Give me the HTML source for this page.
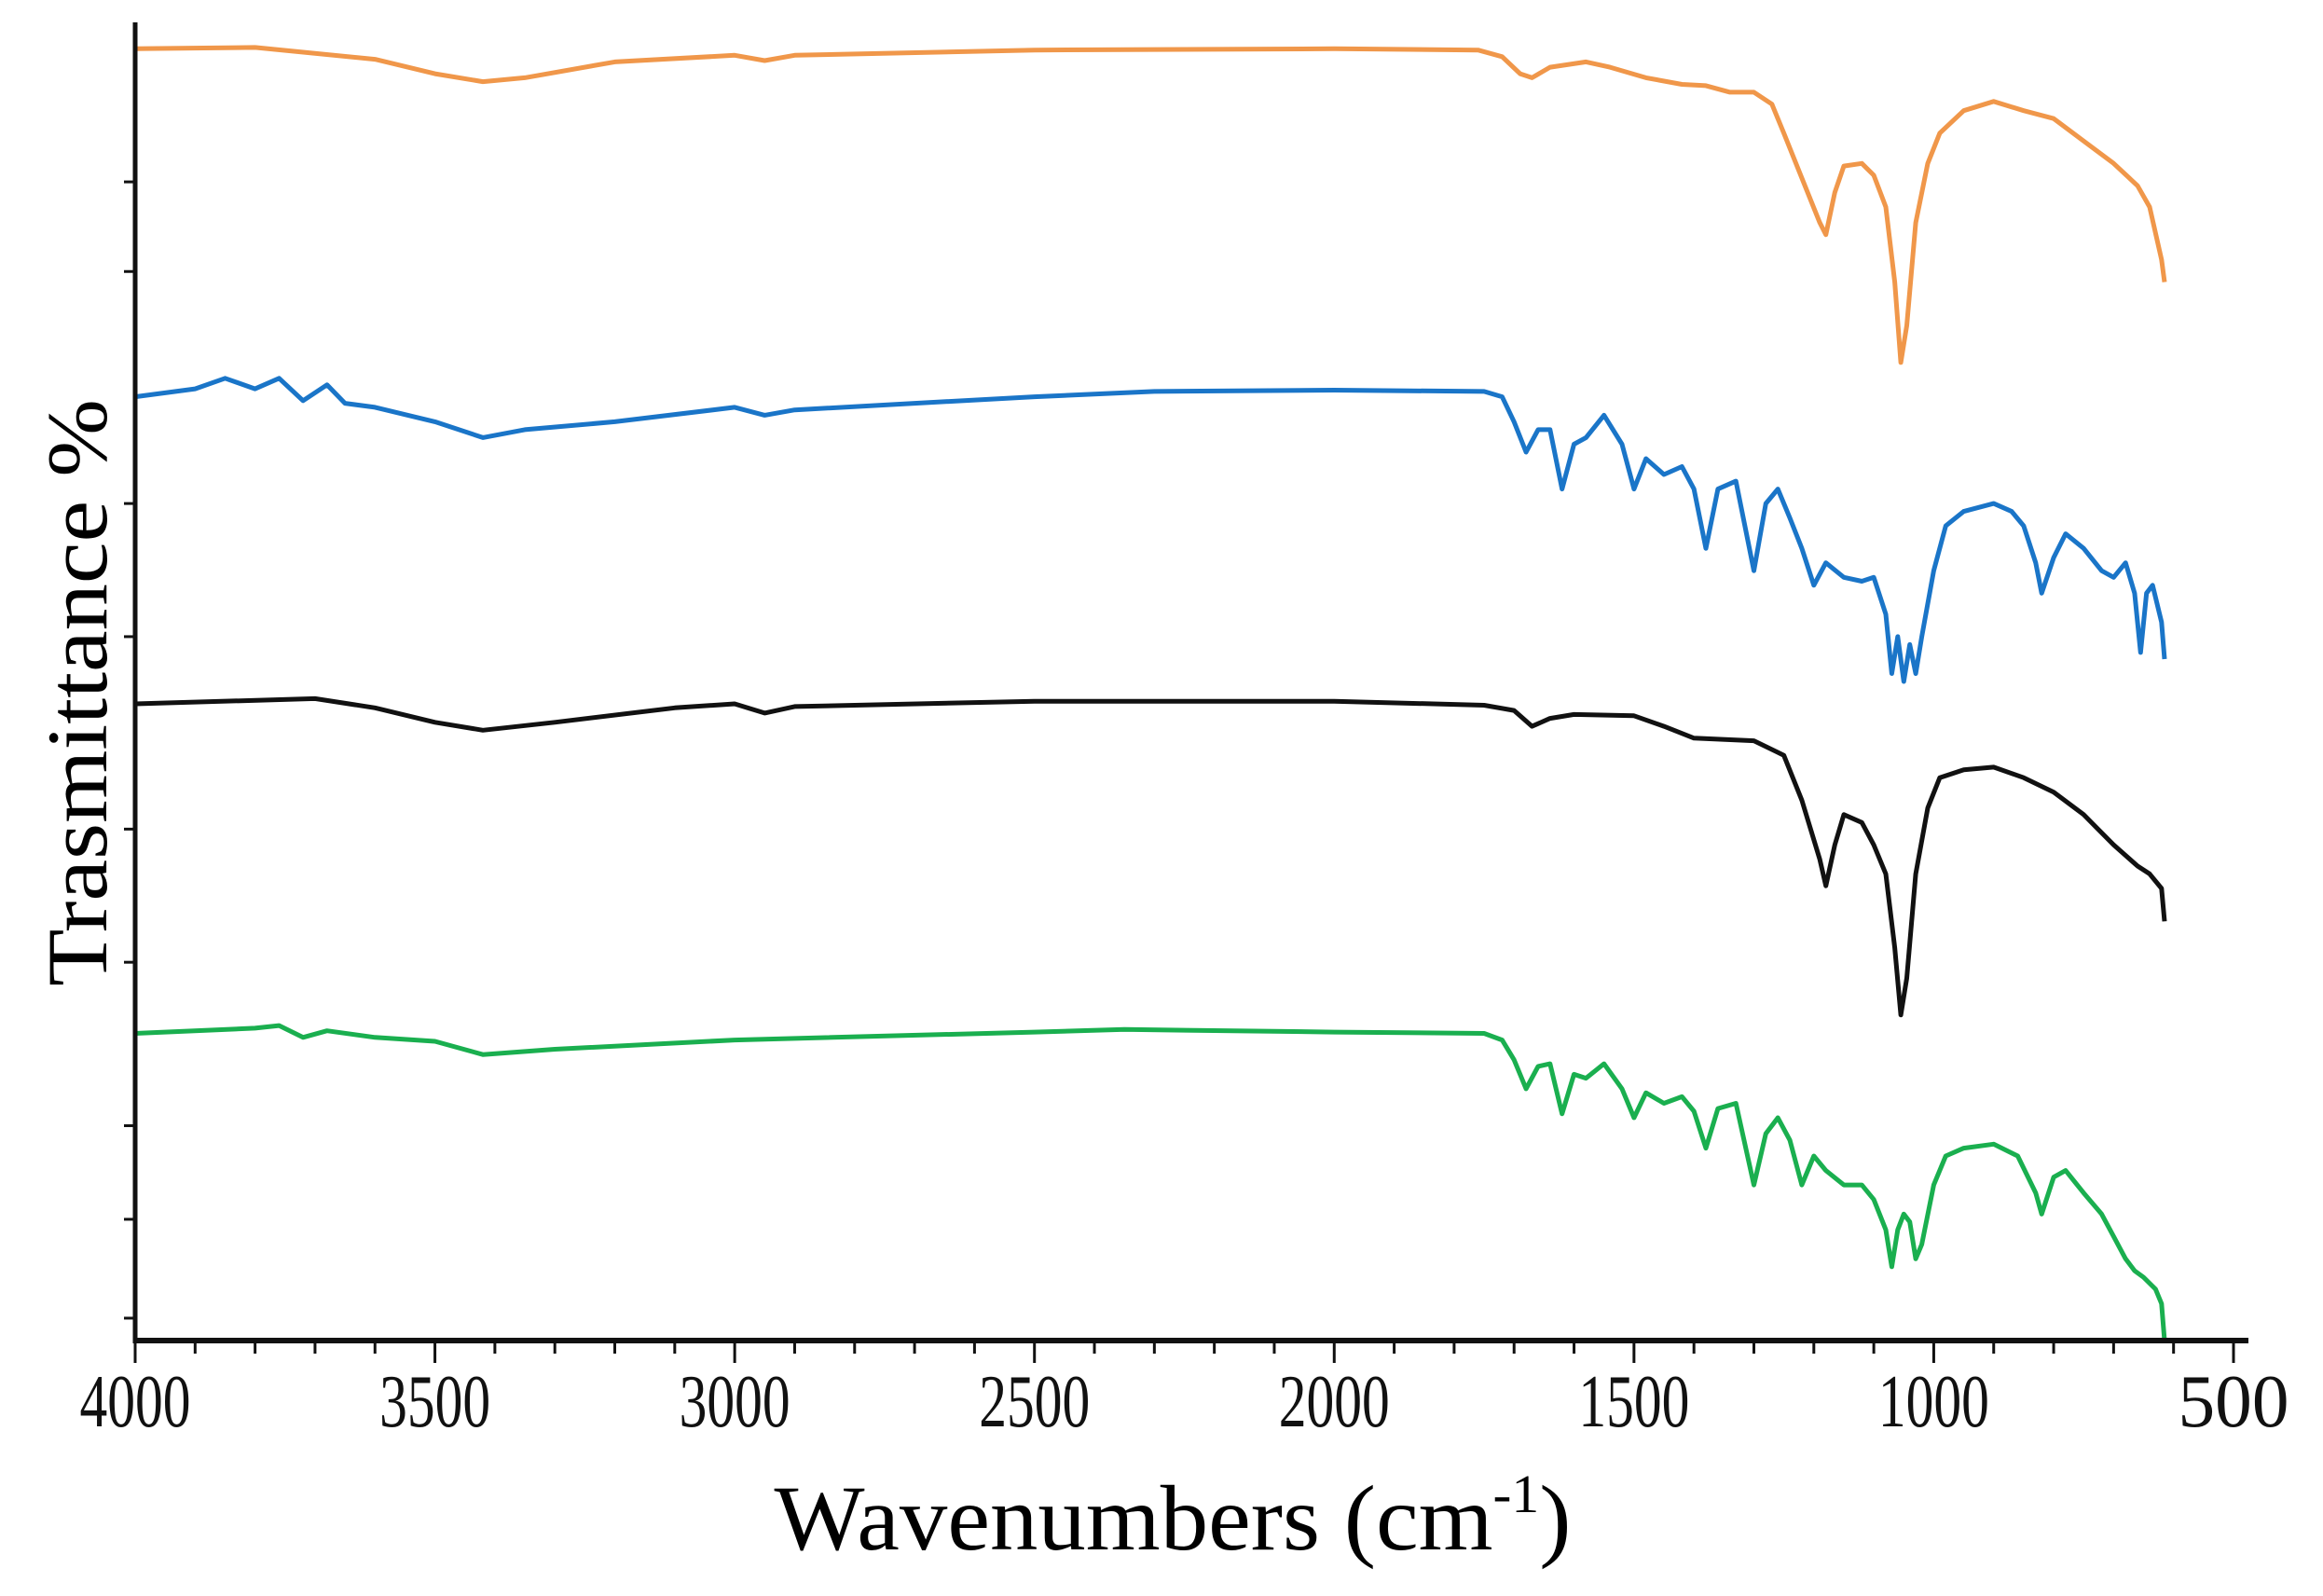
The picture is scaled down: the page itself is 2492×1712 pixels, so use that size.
<!DOCTYPE html>
<html><head><meta charset="utf-8"><style>
html,body{margin:0;padding:0;background:#fff;}
svg{display:block;font-family:"Liberation Serif",serif;}
</style></head><body>
<svg id="chart" width="2492" height="1712" viewBox="0 0 2492 1712" xmlns="http://www.w3.org/2000/svg">
<g id="plot"></g>
<text x="83" y="743" transform="rotate(-90 83 743)" text-anchor="middle" dominant-baseline="central" font-size="92" textLength="630" lengthAdjust="spacingAndGlyphs">Trasmittance %</text>
<text x="1258" y="1662" text-anchor="middle" font-size="100" textLength="855" lengthAdjust="spacingAndGlyphs">Wavenumbers (cm<tspan dy="-40" font-size="58">-1</tspan><tspan dy="40">)</tspan></text>
</svg>
<script>
const xTicks = [4000,3500,3000,2500,2000,1500,1000,500];
const yTicks = [87.9,81.1,63.5,53.4,38.8,28.7,16.3,9.2,1.7];
const orangeWn = [4000,3800,3600,3500,3420,3350,3200,3000,2950,2900,2500,2000,1760,1720,1690,1670,1640,1580,1540,1480,1420,1380,1340,1300,1270,1250,1220,1190,1180,1165,1150,1120,1100,1080,1065,1055,1045,1030,1010,990,950,900,850,800,750,700,660,640,620,615];
const orangeT = [98.0,98.1,97.2,96.1,95.5,95.8,97.0,97.5,97.1,97.5,97.9,98.0,97.9,97.4,96.1,95.8,96.6,97.0,96.6,95.8,95.3,95.2,94.7,94.7,93.8,91.6,88.2,84.8,83.9,87.1,89.1,89.3,88.4,86.0,80.3,74.2,77.0,84.8,89.3,91.6,93.3,94.0,93.3,92.7,91.0,89.3,87.6,86.0,82.0,80.3];
const blueWn = [4000,3900,3850,3800,3760,3720,3680,3650,3600,3500,3420,3350,3200,3000,2950,2900,2500,2300,2000,1750,1720,1700,1680,1660,1640,1620,1600,1580,1550,1520,1500,1480,1450,1420,1400,1380,1360,1330,1300,1280,1260,1240,1220,1200,1180,1150,1120,1100,1080,1070,1060,1050,1040,1030,1020,1000,980,950,900,870,850,830,820,800,780,750,720,700,680,665,655,645,635,620,615];
const blueT = [71.6,72.2,73.0,72.2,73.0,71.3,72.5,71.1,70.8,69.7,68.5,69.1,69.7,70.8,70.2,70.6,71.6,72.0,72.1,72.0,71.6,69.7,67.4,69.1,69.1,64.6,68.0,68.5,70.2,68.0,64.6,66.9,65.7,66.3,64.6,60.1,64.6,65.2,58.4,63.5,64.6,62.4,60.1,57.3,59.0,57.9,57.6,57.9,55.1,50.6,53.4,50.0,52.8,50.6,53.4,58.4,61.8,62.9,63.5,62.9,61.8,59.0,56.7,59.4,61.2,60.1,58.4,57.9,59.0,56.7,52.2,56.7,57.3,54.5,51.7];
const blackWn = [4000,3700,3600,3500,3420,3300,3100,3000,2950,2900,2500,2000,1750,1700,1670,1640,1600,1500,1450,1400,1300,1250,1220,1190,1180,1165,1150,1120,1100,1080,1065,1055,1045,1030,1010,990,950,900,850,800,750,700,660,640,620,615];
const blackT = [48.3,48.7,48.0,46.9,46.3,46.9,48.0,48.3,47.6,48.1,48.5,48.5,48.2,47.8,46.6,47.2,47.5,47.4,46.6,45.7,45.5,44.4,41.0,36.5,34.5,37.6,39.9,39.3,37.6,35.4,29.8,24.7,27.5,35.4,40.4,42.7,43.3,43.5,42.7,41.6,39.9,37.6,36.0,35.4,34.3,31.8];
const greenWn = [4000,3800,3760,3720,3680,3600,3500,3420,3300,3000,2500,2350,2000,1750,1720,1700,1680,1660,1640,1620,1600,1580,1550,1520,1500,1480,1450,1420,1400,1380,1360,1330,1300,1280,1260,1240,1220,1200,1180,1150,1120,1100,1080,1070,1060,1050,1040,1030,1020,1000,980,950,900,860,830,820,800,780,750,720,700,680,665,650,630,620,615];
const greenT = [23.3,23.7,23.9,23.0,23.5,23.0,22.7,21.7,22.1,22.8,23.4,23.6,23.4,23.3,22.8,21.3,19.1,20.8,21.0,17.2,20.2,19.9,21.0,19.1,16.9,18.8,18.0,18.5,17.4,14.6,17.6,18.0,11.8,15.7,16.9,15.2,11.8,14.0,12.9,11.8,11.8,10.7,8.4,5.6,8.4,9.6,9.0,6.2,7.3,11.8,14.0,14.6,14.9,14.0,11.2,9.6,12.4,12.9,11.2,9.6,7.9,6.2,5.3,4.8,3.9,2.8,0];

const NS='http://www.w3.org/2000/svg';
const X0=145, X1=2396, Y0=1438, Y1=24;
function xs(w){return X0+(4000-w)*(X1-X0)/3500;}
function ys(t){return Y0-t*(Y0-Y1)/100;}
const plot=document.getElementById('plot');
function mk(tag,attrs){const e=document.createElementNS(NS,tag);for(const k in attrs)e.setAttribute(k,attrs[k]);return e;}

const series=[[orangeWn,orangeT,'#f0974a','orange-spectrum'],[blueWn,blueT,'#1a75c8','blue-spectrum'],[blackWn,blackT,'#111111','black-spectrum'],[greenWn,greenT,'#1aaf4f','green-spectrum']];
series.forEach(s=>{
  const d=s[0].map((w,i)=>(i?'L':'M')+xs(w).toFixed(1)+','+ys(s[1][i]).toFixed(1)).join(' ');
  const p=mk('path',{d:d,fill:'none',stroke:s[2],'stroke-width':5,'stroke-linejoin':'round'});
  
  
  plot.appendChild(p);
});

const xa=mk('line',{x1:X0,y1:Y0,x2:2412,y2:Y0,stroke:'#111','stroke-width':6});


plot.appendChild(xa);
const ya=mk('line',{x1:X0,y1:Y1,x2:X0,y2:Y0+3,stroke:'#111','stroke-width':5});


plot.appendChild(ya);

for(let w=4000; w>=500; w-=100){
  const major = w%500===0;
  const t=mk('line',{x1:xs(w),y1:Y0,x2:xs(w),y2:Y0+(major?24:14),stroke:'#111','stroke-width':3});
  
  
  plot.appendChild(t);
}
xTicks.forEach(w=>{
  const t=mk('text',{x:xs(w),y:1530,'text-anchor':'middle','font-size':80,fill:'#111',textLength:119,lengthAdjust:'spacingAndGlyphs'});
  t.textContent=String(w);
  
  
  plot.appendChild(t);
});
yTicks.forEach(v=>{
  const t=mk('line',{x1:X0-12,y1:ys(v),x2:X0,y2:ys(v),stroke:'#111','stroke-width':3});
  
  
  plot.appendChild(t);
});
</script>
</body></html>
